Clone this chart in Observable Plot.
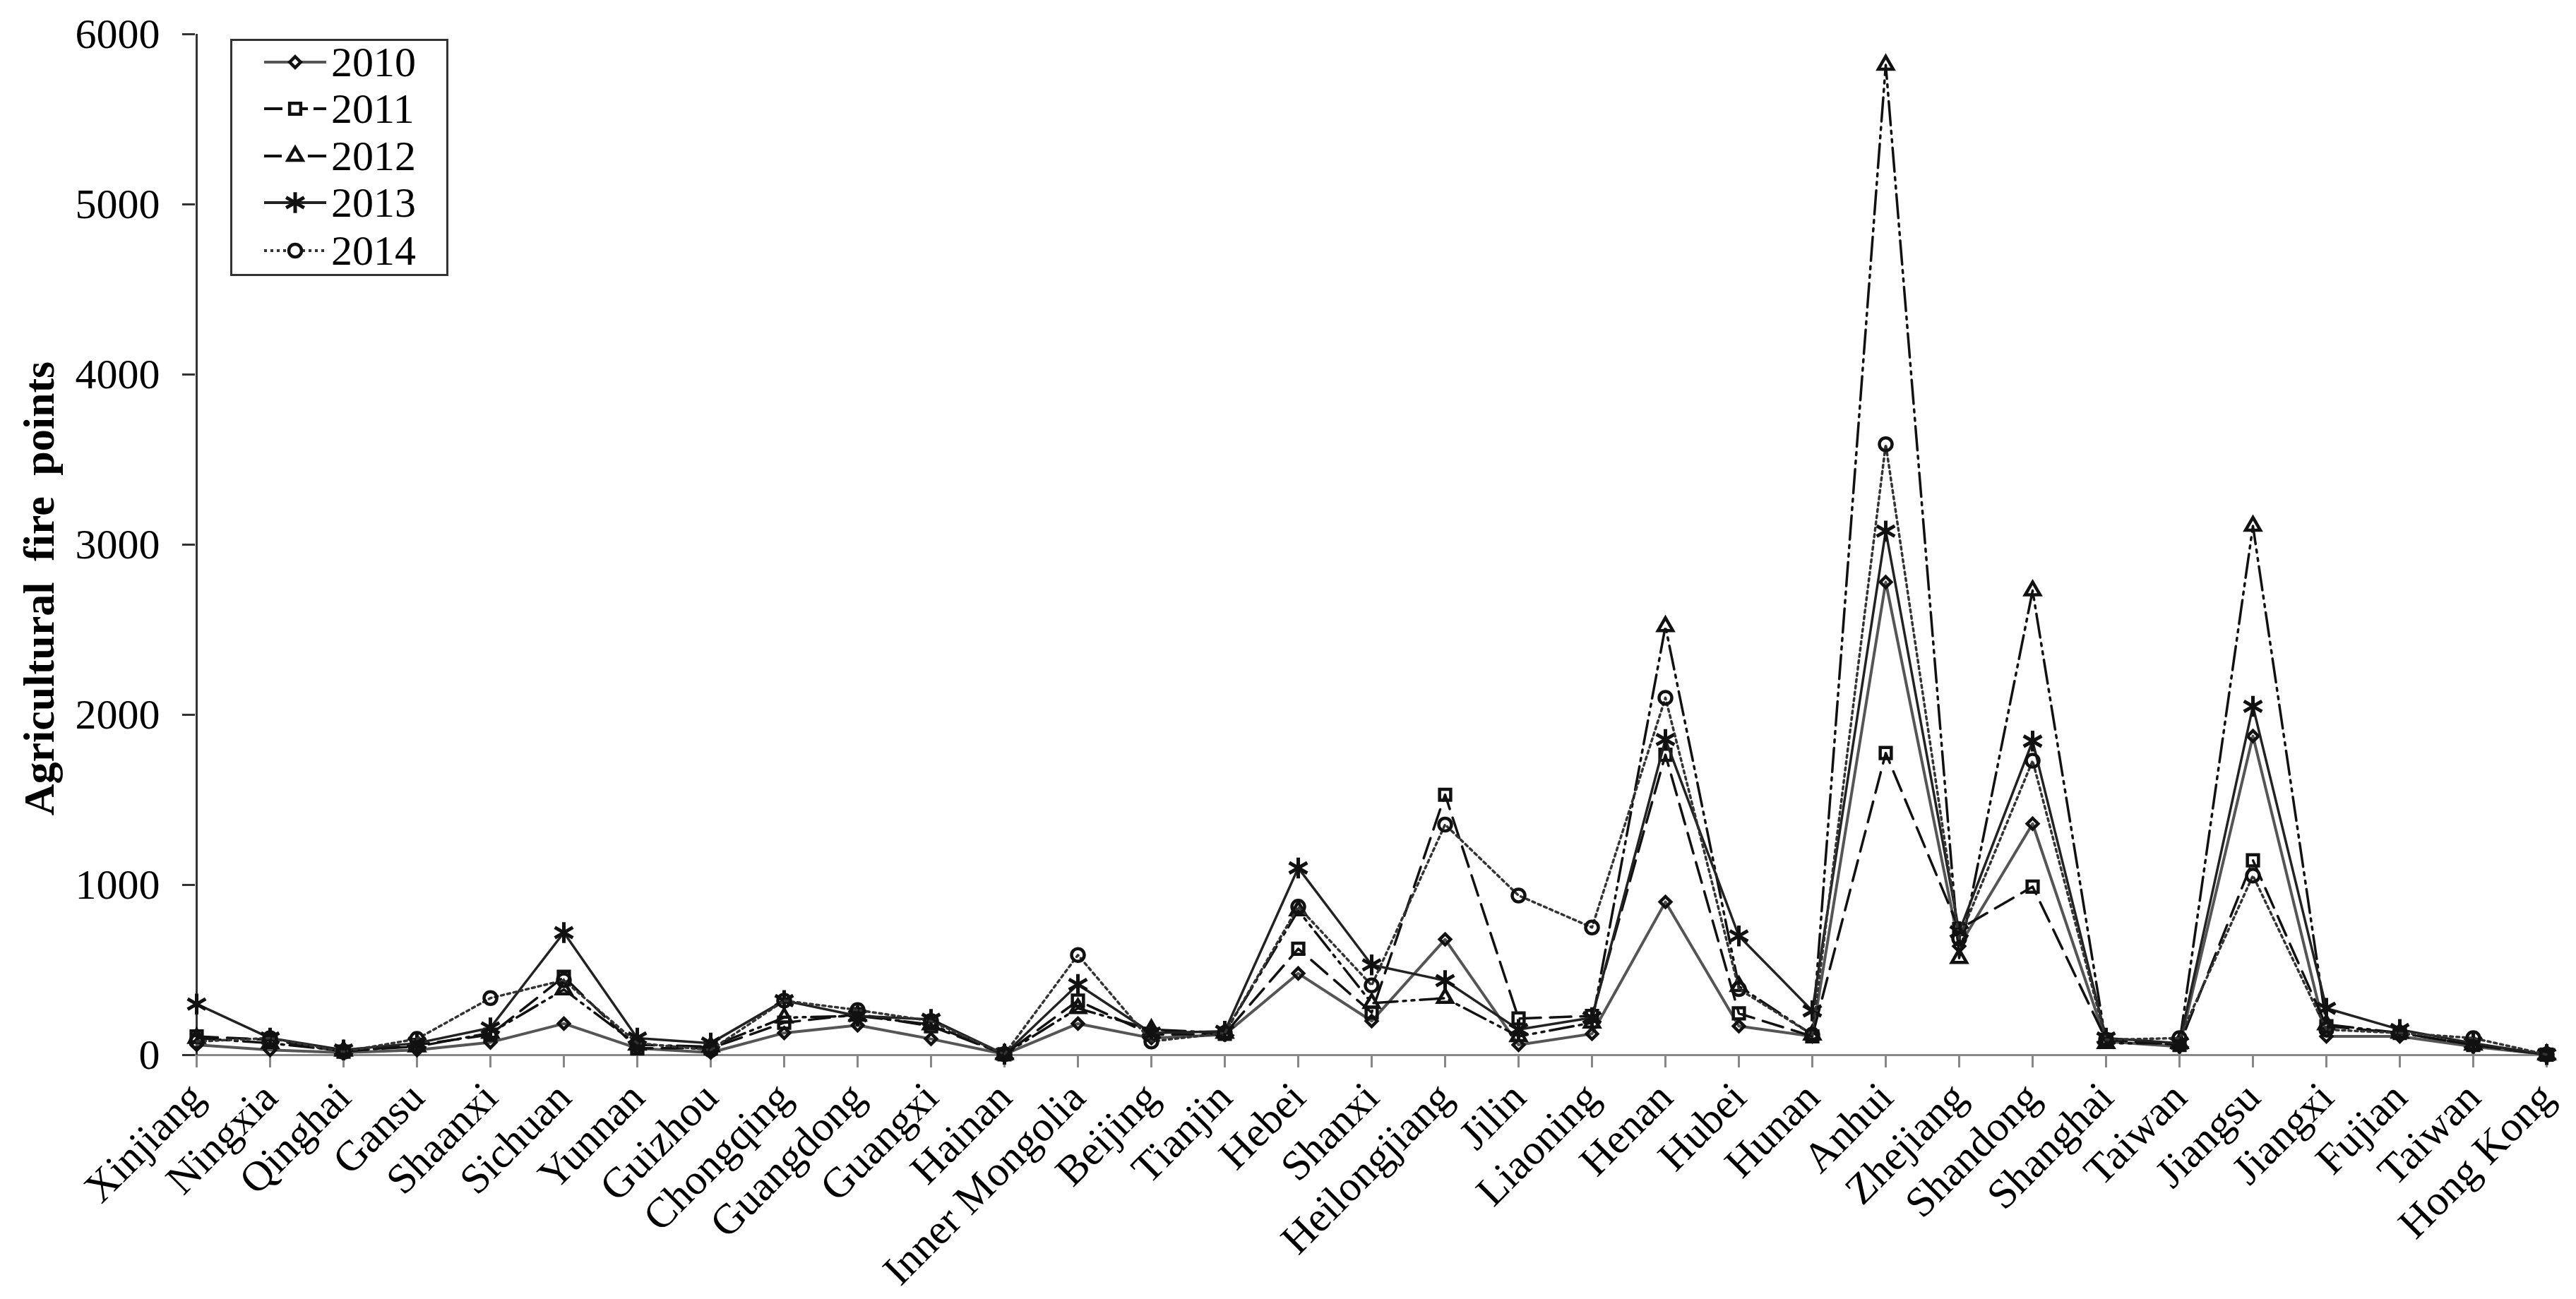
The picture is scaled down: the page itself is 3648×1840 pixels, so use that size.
<!DOCTYPE html>
<html><head><meta charset="utf-8">
<script src="https://cdn.jsdelivr.net/npm/d3@7"></script>
<script src="https://cdn.jsdelivr.net/npm/@observablehq/plot@0.6"></script>
<style>
html,body{margin:0;padding:0;background:#fff;}
#wrap{position:relative;width:3648px;height:1840px;overflow:hidden;}
#wrap svg{display:block;}
#legend{position:absolute;left:326px;top:55px;}
</style></head><body>
<div id="wrap"><div id="chart"></div><div id="legend"></div></div>
<script>
const categories = ["Xinjiang","Ningxia","Qinghai","Gansu","Shaanxi","Sichuan","Yunnan","Guizhou","Chongqing","Guangdong","Guangxi","Hainan","Inner Mongolia","Beijing","Tianjin","Hebei","Shanxi","Heilongjiang","Jilin","Liaoning","Henan","Hubei","Hunan","Anhui","Zhejiang","Shandong","Shanghai","Taiwan","Jiangsu","Jiangxi","Fujian","Taiwan","Hong Kong"];
const v2010 = [60,30,15,30,75,185,40,15,130,175,95,5,185,100,120,480,200,680,60,125,900,170,110,2780,640,1360,80,50,1875,110,110,50,3];
const v2011 = [110,90,20,60,120,460,40,40,190,240,170,5,320,120,125,625,250,1530,215,230,1765,245,110,1775,740,990,90,60,1145,170,130,60,3];
const v2012 = [100,70,25,50,130,385,60,50,220,230,180,5,275,150,130,850,305,335,110,190,2520,405,120,5820,570,2730,70,70,3110,180,130,60,3];
const v2013 = [300,100,30,70,160,720,100,70,320,230,210,5,415,130,140,1100,530,438,150,220,1855,700,260,3080,725,1845,100,70,2050,275,150,70,3];
const v2014 = [80,100,20,95,335,440,70,30,320,265,200,5,588,80,130,872,410,1355,938,750,2100,388,120,3590,685,1730,90,100,1055,150,130,100,3];
const years = ["2010","2011","2012","2013","2014"];
const seriesValues = [v2010,v2011,v2012,v2013,v2014];
const strokes = ["#555","#111","#111","#222","#333"];
const dashes = ["none","30,13","34,8,4,8,4,8","none","4,5"];
const legendDashes = [null,"26,8,28,8,18","25,37,26",null,"4,5"];
const symbols = ["diamond2","square2","triangle2","asterisk","circle"];
const markerR = [7,10,10,14,9];
const yTicks = [0,1000,2000,3000,4000,5000,6000];
const yTitle = "Agricultural fire points";

const font = '"Liberation Serif","Times New Roman",serif';
const rows = years.flatMap((year,s)=>categories.map((c,i)=>({i,year,value:seriesValues[s][i],s})));

const marks = [
  Plot.ruleY([0],{stroke:"#888",strokeWidth:3}),
  Plot.ruleX([0],{y1:0,y2:6000,stroke:"#333",strokeWidth:3}),
  Plot.axisX({tickSize:18,tickPadding:32,tickRotate:-45,stroke:"#888",strokeWidth:3,
    fill:"#000",fontSize:60,label:null,tickFormat:i=>categories[i]}),
  Plot.axisY({ticks:yTicks,tickSize:18,tickPadding:32,stroke:"#333",strokeWidth:3,
    fill:"#000",fontSize:60,label:null,tickFormat:d=>String(d)}),
  Plot.text([yTitle],{frameAnchor:"left",textAnchor:"middle",rotate:-90,dx:-220,dy:62,fontSize:62,fontWeight:"bold",fill:"#000"}),
];
years.forEach((year,s)=>{
  const d = rows.filter(r=>r.s===s);
  marks.push(Plot.line(d,{x:"i",y:"value",stroke:strokes[s],strokeWidth:s===0?4:3.5,strokeDasharray:dashes[s],curve:"linear"}));
  marks.push(Plot.dot(d,{x:"i",y:"value",symbol:()=>symbols[s],r:markerR[s],stroke:"#111",strokeWidth:s===3?5:4.5,fill:"none"}));
});

const plot = Plot.plot({
  width:3648,height:1840,
  marginLeft:276,marginRight:40,marginTop:48,marginBottom:346,
  style:{fontFamily:font,background:"#fff",overflow:"visible"},
  x:{type:"point",domain:d3.range(categories.length),padding:0},
  y:{domain:[0,6000]},
  marks
});
d3.select(plot).selectAll("text").filter(function(){return this.textContent===yTitle;}).style("word-spacing","14px");
document.getElementById("chart").append(plot);

// Legend
const lw=309,lh=336,rowY=[33,99,166,232,300];
const symType={diamond2:d3.symbolDiamond2,square2:d3.symbolSquare2,triangle2:d3.symbolTriangle2,asterisk:d3.symbolAsterisk,circle:d3.symbolCircle};
const lg=d3.select("#legend").append("svg").attr("width",lw).attr("height",lh).style("font-family",font);
lg.append("rect").attr("x",1.5).attr("y",1.5).attr("width",lw-3).attr("height",lh-3).attr("fill","#fff").attr("stroke","#333").attr("stroke-width",3);
years.forEach((year,s)=>{
  const y=rowY[s];
  lg.append("line").attr("x1",48).attr("x2",136).attr("y1",y).attr("y2",y).attr("stroke",strokes[s]).attr("stroke-width",4).attr("stroke-dasharray",legendDashes[s]);
  lg.append("path").attr("transform",`translate(92,${y})`).attr("d",d3.symbol(symType[symbols[s]],Math.PI*markerR[s]*markerR[s])()).attr("fill",s===3?"none":"#fff").attr("stroke","#111").attr("stroke-width",s===3?5:4.5);
  lg.append("text").attr("x",143).attr("y",y).attr("dy","0.34em").attr("font-size",60).attr("fill","#000").text(year);
});
</script>
</body></html>
